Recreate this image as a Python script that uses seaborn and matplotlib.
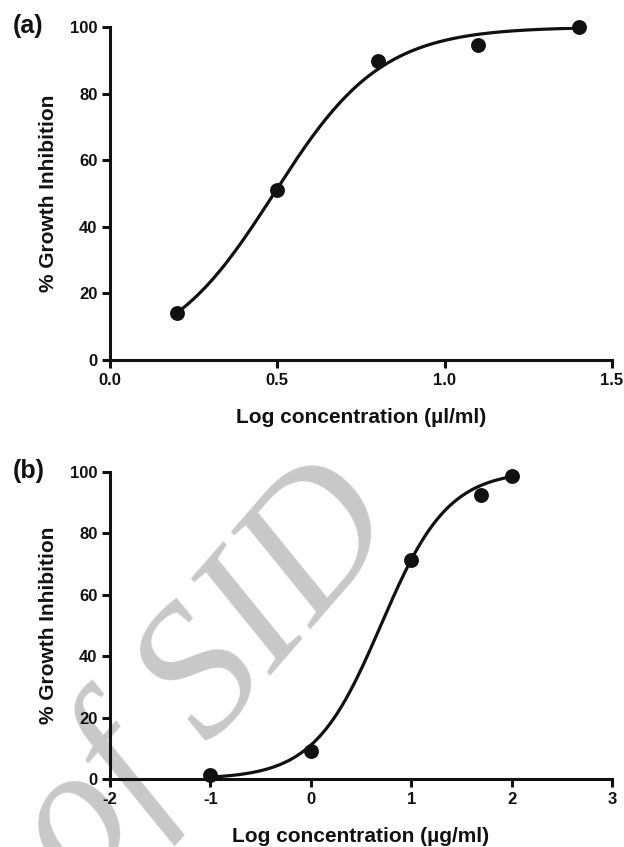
import numpy as np
import pandas as pd
import matplotlib
matplotlib.use("Agg")
import matplotlib.pyplot as plt
import seaborn as sns

# ---- data ----
a_logconc = [0.2, 0.5, 0.8, 1.1, 1.4]
a_inhib = [14.0, 51.2, 89.7, 94.6, 100.0]
b_logconc = [-1.0, 0.0, 1.0, 1.7, 2.0]
b_inhib = [1.3, 9.1, 71.2, 92.6, 98.6]

# fitted sigmoid parameters (bottom, top, logEC50, hill) estimated from the drawn curves
a_fit = (0.0, 100.0, 0.49, 2.7)
b_fit = (0.0, 100.5, 0.70, 1.3)

a_xticks = [0.0, 0.5, 1.0, 1.5]
a_xticklabels = ["0.0", "0.5", "1.0", "1.5"]
b_xticks = [-2, -1, 0, 1, 2, 3]
b_xticklabels = ["-2", "-1", "0", "1", "2", "3"]
yticks = [0, 20, 40, 60, 80, 100]


def sigmoid(x, p):
    bottom, top, ec50, hill = p
    return bottom + (top - bottom) / (1 + 10 ** ((ec50 - x) * hill))


sns.set_style("ticks")
plt.rcParams['font.family'] = ['Liberation Sans', 'DejaVu Sans']
plt.rcParams['font.weight'] = 'bold'
plt.rcParams['axes.unicode_minus'] = False

fig = plt.figure(figsize=(6.24, 8.47), dpi=100)
W, H = 624, 847


def make_ax(x0, x1, ytop, ybot):
    return fig.add_axes([x0 / W, 1 - ybot / H, (x1 - x0) / W, (ybot - ytop) / H])


ax_a = make_ax(110, 612, 27, 360)
ax_b = make_ax(110, 612, 472, 779)

panels = [
    (ax_a, a_logconc, a_inhib, a_fit, (0, 1.5), a_xticks, a_xticklabels,
     "Log concentration (\u00b5l/ml)", "(a)", 26),
    (ax_b, b_logconc, b_inhib, b_fit, (-2, 3), b_xticks, b_xticklabels,
     "Log concentration (\u00b5g/ml)", "(b)", 471),
]

for ax, xs, ys, fit, xlim, xt, xtl, xlabel, tag, tag_y in panels:
    ax.set_facecolor('none')
    xf = np.linspace(min(xs), max(xs), 300)
    curve = pd.DataFrame({"x": xf, "y": sigmoid(xf, fit)})
    pts = pd.DataFrame({"x": xs, "y": ys})
    sns.lineplot(data=curve, x="x", y="y", ax=ax, color="#111111", lw=2.3, zorder=3)
    sns.scatterplot(data=pts, x="x", y="y", ax=ax, color="#111111", s=115,
                    edgecolor="#111111", linewidth=0, zorder=4, clip_on=False)
    ax.set_xlim(*xlim)
    ax.set_ylim(0, 100)
    ax.set_xticks(xt)
    ax.set_xticklabels(xtl)
    ax.set_yticks(yticks)
    ax.set_yticklabels([str(v) for v in yticks])
    sns.despine(ax=ax)
    for s in ("left", "bottom"):
        ax.spines[s].set_linewidth(2.2)
        ax.spines[s].set_color("#111111")
    ax.tick_params(axis="both", direction="out", length=6, width=2.2,
                   color="#111111", labelsize=12, labelcolor="#111111", pad=3)
    for lab in ax.get_xticklabels() + ax.get_yticklabels():
        lab.set_fontweight("bold")
    ax.set_xlabel(xlabel, fontsize=15, fontweight="bold", color="#111111", labelpad=15)
    ax.set_ylabel("% Growth Inhibition", fontsize=15, fontweight="bold",
                  color="#111111", labelpad=9)
    ax.text(13 / W, 1 - tag_y / H, tag,
            transform=fig.transFigure, fontsize=18, fontweight="bold",
            color="#111111", ha="left", va="center")

# watermark
fig.text(207 / W, 1 - 678 / H, "of SID", rotation=49, fontsize=136,
         family="Liberation Serif", style="italic", fontweight="normal",
         color="#c8c8c8", ha="center", va="center", zorder=-1)

fig.savefig("out.png", dpi=100)
